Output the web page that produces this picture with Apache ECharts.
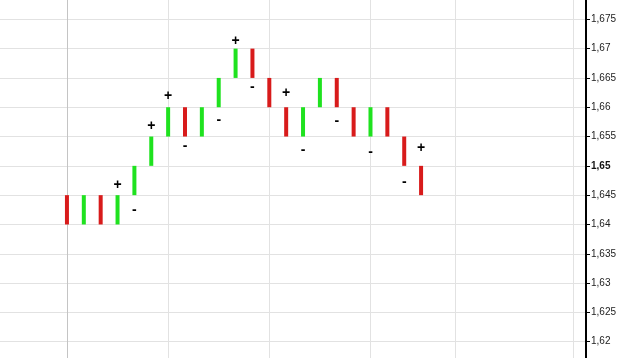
<!DOCTYPE html>
<html>
<head>
<meta charset="utf-8">
<script src="https://cdn.jsdelivr.net/npm/echarts@6/dist/echarts.min.js"></script>
<style>html,body{margin:0;padding:0;background:#fff;overflow:hidden}#c{position:absolute;left:0;top:-10.27px;width:625px;height:380.54px}</style>
</head>
<body>
<div id="c"></div>
<script>
// Renko bricks (index = position along x)
var barOpen  = [1.645,1.640,1.645,1.640,1.645,1.650,1.655,1.660,1.655,1.660,1.665,1.670,1.665,1.660,1.655,1.660,1.665,1.660,1.655,1.660,1.655,1.650];
var barClose = [1.640,1.645,1.640,1.645,1.650,1.655,1.660,1.655,1.660,1.665,1.670,1.665,1.660,1.655,1.660,1.665,1.660,1.655,1.660,1.655,1.650,1.645];
// +/- markers
var signIndex = [3,4,5,6,7,9,10,11,13,14,16,18,20,21];
var signValue = [1.6467,1.6424,1.6567,1.6619,1.6533,1.6578,1.6712,1.6634,1.6624,1.6527,1.6576,1.6523,1.6472,1.6530];
var signText  = ['+','-','+','+','-','-','+','-','+','-','-','-','-','+'];
// vertical separators (x index)
var separators = [0,6,12,18,23,30];
var yMin = 1.615, yMax = 1.68, yStep = 0.005;
var boldTick = 1.65;

var bricks = barOpen.map(function(o,i){return [i,o,barClose[i]];});
var signs = signIndex.map(function(x,i){return [x,signValue[i],signText[i]];});

var chart = echarts.init(document.getElementById('c'));
chart.setOption({
  animation:false,
  backgroundColor:'#fff',
  grid:{left:0,right:39,top:0,bottom:0,containLabel:false,outerBoundsMode:'none'},
  xAxis:{type:'value',min:-3.97,max:30.78,axisLine:{show:false},axisTick:{show:false},axisLabel:{show:false},splitLine:{show:false}},
  yAxis:{type:'value',position:'right',min:yMin,max:yMax,interval:yStep,
    axisLine:{show:true,onZero:false,lineStyle:{color:'#000',width:2}},
    axisTick:{show:true,length:4,lineStyle:{color:'#000',width:1}},
    axisLabel:{margin:5,fontFamily:'Liberation Sans, Arial',fontSize:10,color:'#222',
      formatter:function(v){var s=String(+v.toFixed(3)).replace('.',',');return Math.abs(v-boldTick)<1e-9?'{b|'+s+'}':s;},
      rich:{b:{fontWeight:'bold',fontSize:10,fontFamily:'Liberation Sans, Arial',color:'#111'}}},
    splitLine:{show:true,lineStyle:{color:'#e2e2e2',width:1}}
  },
  series:[
    {type:'line',data:[],z:1,silent:true,
      markLine:{silent:true,z:1,symbol:['none','none'],label:{show:false},animation:false,
        data:separators.map(function(s,i){return {xAxis:s,lineStyle:{color:i===0?'#c4c4c4':'#e2e2e2',width:1,type:'solid'}};})
      }
    },
    {type:'custom',data:bricks,z:3,
      renderItem:function(params,api){
        var x=api.value(0),o=api.value(1),c=api.value(2);
        var p1=api.coord([x,o]),p2=api.coord([x,c]);
        var top=Math.min(p1[1],p2[1]),h=Math.abs(p1[1]-p2[1]);
        return {type:'rect',shape:{x:p1[0]-2,y:top,width:4,height:h},style:{fill:c>o?'#1fe21f':'#d81b1b'}};
      }
    },
    {type:'custom',data:signs,z:4,
      renderItem:function(params,api){
        var p=api.coord([api.value(0),api.value(1)]);
        return {type:'text',x:p[0],y:p[1],style:{text:signs[params.dataIndex][2],textAlign:'center',textVerticalAlign:'middle',fontSize:14,fontWeight:'bold',fontFamily:'Liberation Sans, Arial',fill:'#000'}};
      }}
  ]
});
</script>
</body>
</html>
